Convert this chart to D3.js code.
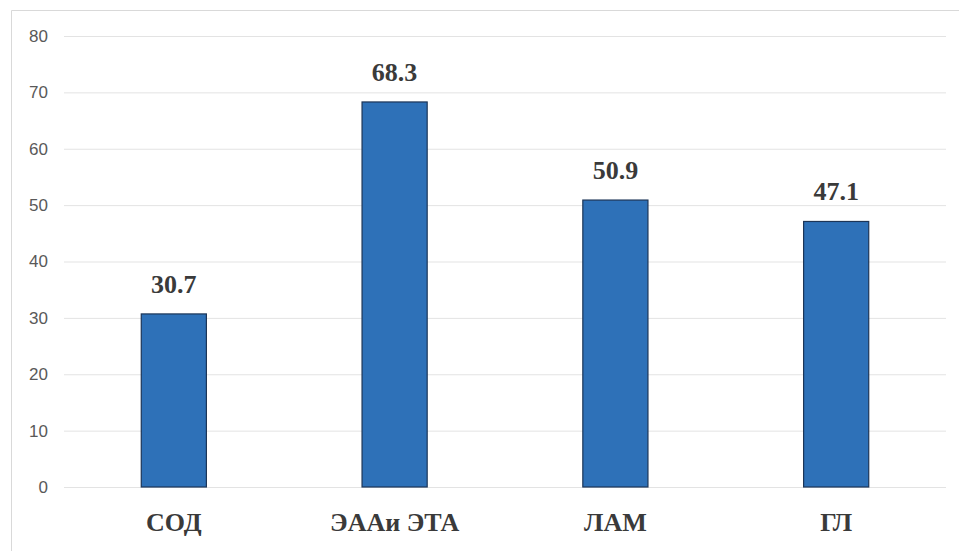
<!DOCTYPE html>
<html><head><meta charset="utf-8">
<script src="https://cdn.jsdelivr.net/npm/d3@7"></script>
</head><body style="margin:0">
<svg id="c" width="959" height="551"></svg>
<script>
const categories = ["СОД", "ЭААи ЭТА", "ЛАМ", "ГЛ"];
const values = [30.7, 68.3, 50.9, 47.1];
const yTicks = [0, 10, 20, 30, 40, 50, 60, 70, 80];

const svg = d3.select("#c");
const W = 959, H = 551;
const m = {left: 64, right: 13, top: 36, bottom: 64};
const SERIF = '"Liberation Serif", "Times New Roman", Tinos, serif';

svg.append("path").attr("d", `M11.5,${H} V10.5 H${W}`).attr("fill", "none").attr("stroke", "#d9d9d9").attr("stroke-width", 1);

const x = d3.scaleBand().domain(categories).range([m.left, W - m.right]).paddingInner(0.705).paddingOuter(0.35);
const y = d3.scaleLinear().domain([0, 80]).range([H - m.bottom, m.top]);

const yAxis = d3.axisLeft(y).tickValues(yTicks).tickSize(-(W - m.right - m.left)).tickPadding(16);
const gy = svg.append("g").attr("transform", `translate(${m.left},0)`).call(yAxis);
gy.select(".domain").remove();
gy.attr("font-family", null).attr("font-size", null);
gy.selectAll(".tick line").attr("stroke", "#e3e3e3").attr("stroke-width", 1);
gy.selectAll(".tick text").attr("fill", "#595959").style("font-family", '"Liberation Sans", Arial, sans-serif').style("font-size", "17px");

svg.append("g").selectAll("rect").data(values).join("rect")
  .attr("x", (d, i) => x(categories[i]))
  .attr("y", d => y(d))
  .attr("width", x.bandwidth())
  .attr("height", d => y(0) - y(d))
  .attr("fill", "#2e71b8")
  .attr("stroke", "#1c3557").attr("stroke-width", 1.2);

svg.append("g").selectAll("text").data(values).join("text")
  .attr("x", (d, i) => x(categories[i]) + x.bandwidth() / 2)
  .attr("y", d => y(d) - 21)
  .attr("text-anchor", "middle")
  .style("font-family", SERIF).style("font-weight", "bold").style("font-size", "26px").attr("fill", "#3a3a3a")
  .text(d => d.toFixed(1));

svg.append("g").selectAll("text").data(categories).join("text")
  .attr("x", d => x(d) + x.bandwidth() / 2)
  .attr("y", y(0) + 44)
  .attr("text-anchor", "middle")
  .style("font-family", SERIF).style("font-weight", "bold").style("font-size", "26px").attr("fill", "#3a3a3a")
  .text(d => d);
</script>
</body></html>
